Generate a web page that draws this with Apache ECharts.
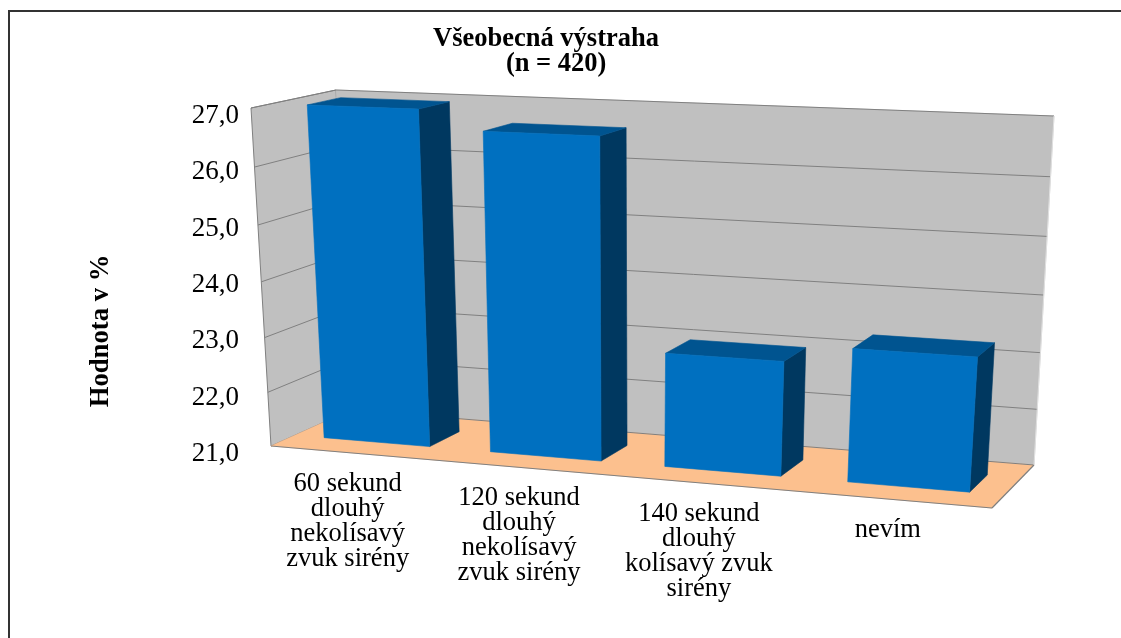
<!DOCTYPE html>
<html><head><meta charset="utf-8">
<style>html,body{margin:0;padding:0;background:#fff}#c{width:1121px;height:638px}</style>
<script src="https://cdn.jsdelivr.net/npm/echarts@6/dist/echarts.min.js"></script>
</head><body><div id="c"></div>
<script>
const categories = ['60 sekund\ndlouhý\nnekolísavý\nzvuk sirény','120 sekund\ndlouhý\nnekolísavý\nzvuk sirény','140 sekund\ndlouhý\nkolísavý zvuk\nsirény','nevím'];
const values = [26.98, 26.65, 23.02, 23.32];
const titleText = 'Všeobecná výstraha\n           (n = 420)';
const yAxisTitle = 'Hodnota v %';
const yMin = 21, yMax = 27, yStep = 1;

// Perspective box used to project the flat grid: [top-left, top-right, bottom-right, bottom-left]
const frontPlane = [[251,108],[1017,137],[992,508],[271,446]];
const backPlane  = [[336,90],[1054,116],[1034,465],[351,410]];
const barDepth = [0.3, 0.7], barFill = 0.64;
const FONT = '"Liberation Serif","Times New Roman",serif';

function homography(q){
  const [[x0,y0],[x1,y1],[x2,y2],[x3,y3]] = q;
  const dx1=x1-x2,dx2=x3-x2,dx3=x0-x1+x2-x3,dy1=y1-y2,dy2=y3-y2,dy3=y0-y1+y2-y3;
  const det=dx1*dy2-dx2*dy1;
  const g=(dx3*dy2-dx2*dy3)/det,h=(dx1*dy3-dx3*dy1)/det;
  const a=x1-x0+g*x1,b=x3-x0+h*x3,c=x0,d=y1-y0+g*y1,e=y3-y0+h*y3,f=y0;
  return (s,t)=>{const w=g*s+h*t+1;return [(a*s+b*t+c)/w,(d*s+e*t+f)/w];};
}
const Hf=homography(frontPlane),Hb=homography(backPlane);
// u: across, v: 0 floor..1 top, w: 0 front..1 back
function P(u,v,w){const a=Hf(u,1-v),b=Hb(u,1-v);return [a[0]+(b[0]-a[0])*w,a[1]+(b[1]-a[1])*w];}
function poly(points,fill,stroke,sw,z){return {type:'polygon',shape:{points},style:{fill,stroke:stroke||fill,lineWidth:sw==null?0.6:sw},z2:z||0};}
function seg(a,b,color,lw){return {type:'line',shape:{x1:a[0],y1:a[1],x2:b[0],y2:b[1]},style:{stroke:color,lineWidth:lw||1,fill:null}};}

function renderScene(params,api){
  const r=params.coordSys;
  const vOf=val=>1-(api.coord([0,val])[1]-r.y)/r.height;
  const ch=[
    poly([P(0,1,0),P(0,1,1),P(0,0,1),P(0,0,0)],'#c0c0c0','#808080',1),
    poly([P(0,1,1),P(1,1,1),P(1,0,1),P(0,0,1)],'#c0c0c0','#c0c0c0',0.6),
    poly([P(0,0,0),P(0,0,1),P(1,0,1),P(1,0,0)],'#fcc08e','#fcc08e',0.6)
  ];
  for(let t=yMin;t<=yMax;t+=yStep){
    const v=vOf(t);
    if(t>yMin) ch.push(seg(P(0,v,0),P(0,v,1),'#808080'));
    ch.push(seg(P(0,v,1),P(1,v,1),'#808080'));
  }
  ch.push(seg(P(0,0,0),P(1,0,0),'#808080',1.2),seg(P(1,0,0),P(1,0,1),'#808080',1.2),seg(P(1,0,1),P(1,1,1),'#e0e0e0',1));
  return {type:'group',children:ch};
}
function renderBar(params,api){
  const r=params.coordSys;
  const i=api.value(0),val=api.value(1);
  const c=api.coord([i,val]),base=api.coord([i,yMin]);
  const bw=api.size([1,0])[0]*barFill;
  const u0=(c[0]-bw/2-r.x)/r.width,u1=(c[0]+bw/2-r.x)/r.width;
  const v1=1-(c[1]-r.y)/r.height,v0=1-(base[1]-r.y)/r.height;
  const [w0,w1]=barDepth;
  return {type:'group',children:[
    poly([P(u1,v1,w0),P(u1,v1,w1),P(u1,v0,w1),P(u1,v0,w0)],'#003860'),
    poly([P(u0,v1,w0),P(u0,v1,w1),P(u1,v1,w1),P(u1,v1,w0)],'#005490'),
    poly([P(u0,v1,w0),P(u1,v1,w0),P(u1,v0,w0),P(u0,v0,w0)],'#0070c0')
  ]};
}
function renderCat(params,api){
  const r=params.coordSys;
  const i=api.value(0);
  const c=api.coord([i,yMin]);
  const p=P((c[0]-r.x)/r.width,0,0);
  return {type:'text',style:{text:categories[i],x:p[0]-6,y:p[1]+18,align:'center',verticalAlign:'top',font:'26.5px '+FONT,lineHeight:25,fill:'#000'}};
}

const chart=echarts.init(document.getElementById('c'),null,{renderer:'canvas'});
chart.setOption({
  animation:false,
  backgroundColor:'#fff',
  title:{text:titleText,left:428,top:22,textAlign:'left',textStyle:{fontFamily:FONT,fontSize:26.5,fontWeight:'bold',color:'#000',lineHeight:25}},
  grid:{left:245,right:70,top:116,bottom:184,containLabel:false},
  xAxis:{type:'category',data:categories,show:false},
  yAxis:{type:'value',min:yMin,max:yMax,interval:yStep,
    axisLine:{show:false},axisTick:{show:false},splitLine:{show:false},
    axisLabel:{margin:6,fontFamily:FONT,fontSize:27,color:'#000',formatter:v=>v.toFixed(1).replace('.',',')}},
  graphic:[
    {type:'line',shape:{x1:9,y1:11,x2:1121,y2:11},style:{stroke:'#333',lineWidth:2}},
    {type:'line',shape:{x1:9,y1:10,x2:9,y2:638},style:{stroke:'#333',lineWidth:2}},
    {type:'text',x:101,y:331,rotation:Math.PI/2,style:{text:yAxisTitle,align:'center',verticalAlign:'middle',font:'bold 26.7px '+FONT,fill:'#000'}}
  ],
  series:[
    {type:'custom',coordinateSystem:'cartesian2d',silent:true,renderItem:renderScene,data:[[0,yMin]],z:1,clip:false},
    {type:'custom',coordinateSystem:'cartesian2d',silent:true,renderItem:renderBar,data:values.map((v,i)=>[i,v]),z:2,clip:false,encode:{x:0,y:1}},
    {type:'custom',coordinateSystem:'cartesian2d',silent:true,renderItem:renderCat,data:values.map((v,i)=>[i,v]),z:3,clip:false,encode:{x:0,y:1}}
  ]
});
</script></body></html>
